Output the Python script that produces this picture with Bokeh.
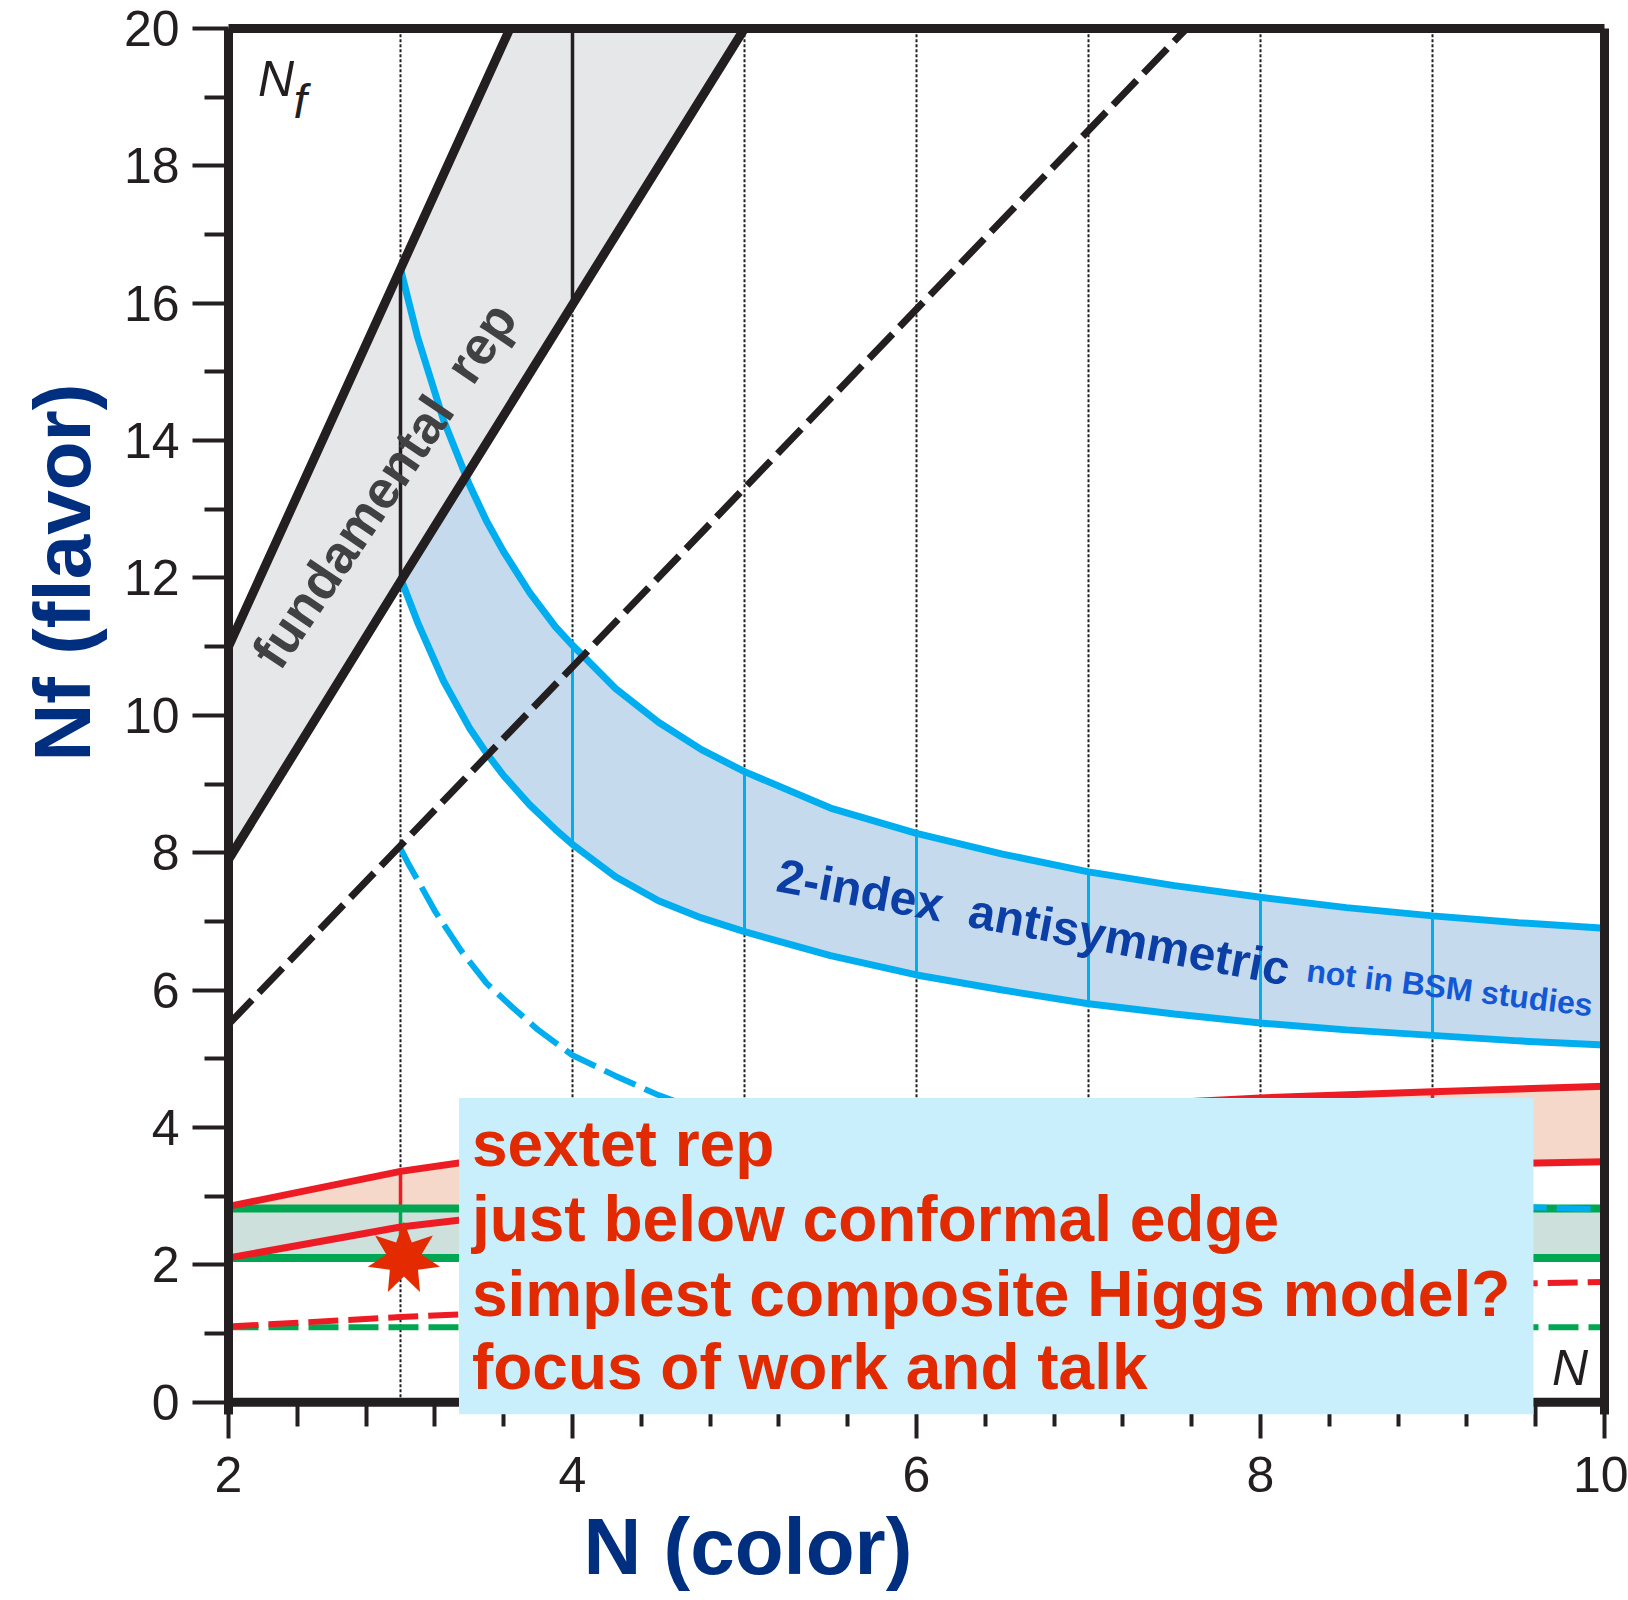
import math
from bokeh.plotting import figure
from bokeh.models import Range1d, FixedTicker, LinearAxis, BoxAnnotation, Label, Title
from bokeh.embed import file_html
from bokeh.resources import INLINE

# ---------------- data ----------------
x_major_ticks = [2, 4, 6, 8, 10]
x_minor_ticks = [2.4, 2.8, 3.2, 3.6, 4.4, 4.8, 5.2, 5.6, 6.4, 6.8, 7.2, 7.6, 8.4, 8.8, 9.2, 9.6]
y_major_ticks = [0, 2, 4, 6, 8, 10, 12, 14, 16, 18, 20]
y_minor_ticks = [1, 3, 5, 7, 9, 11, 13, 15, 17, 19]
grid_N = [3, 4, 5, 6, 7, 8, 9]

# fundamental rep band
N_fund = [2, 3, 4, 5]
fund_upper = [11.0, 16.5, 22.0, 27.5]
fund_lower = [7.9, 11.95, 15.98, 20.0]
fund_vert_N = [3, 4]

# black dashed line
N_bdash = [2, 7.57]
nf_bdash = [5.5, 20.0]

# 2-index antisymmetric band
N_anti = [3, 3.1, 3.25, 3.4, 3.5, 3.6, 3.75, 3.9, 4, 4.25, 4.5, 4.75, 5, 5.5, 6, 6.5,
          7, 7.5, 8, 8.5, 9, 9.5, 10]
anti_upper = [16.5, 15.5, 14.3, 13.36, 12.83, 12.38, 11.79, 11.29, 11.02, 10.39, 9.9, 9.5,
              9.18, 8.65, 8.28, 7.98, 7.72, 7.52, 7.35, 7.2, 7.08, 6.98, 6.9]
anti_lower = [12.0, 11.35, 10.5, 9.82, 9.45, 9.12, 8.7, 8.34, 8.12, 7.65, 7.3, 7.05,
              6.85, 6.5, 6.22, 6.0, 5.8, 5.65, 5.52, 5.42, 5.34, 5.26, 5.2]
anti_vert_N = [4, 5, 6, 7, 8, 9]

# antisymmetric dashed curve
N_adash = [3, 3.05, 3.1, 3.2, 3.35, 3.5, 3.65, 3.8, 4, 4.25, 4.5, 4.75, 5, 5.5, 6, 7, 8, 9, 10]
nf_adash = [8.06, 7.82, 7.6, 7.15, 6.58, 6.1, 5.75, 5.42, 5.05, 4.75, 4.47, 4.24, 4.05,
            3.76, 3.53, 3.22, 3.02, 2.89, 2.8]

# sextet (2-index symmetric) band
N_sext = [2, 3, 4, 5, 6, 7, 8, 9, 10]
sext_upper = [2.85, 3.36, 3.72, 3.97, 4.15, 4.3, 4.43, 4.52, 4.6]
sext_lower = [2.1, 2.55, 2.84, 3.05, 3.2, 3.31, 3.39, 3.45, 3.5]
sext_dashed = [1.1, 1.24, 1.35, 1.44, 1.52, 1.59, 1.65, 1.7, 1.75]
sext_vert_N = [3, 4, 5, 6, 7, 8, 9]

# adjoint band
N_adj = [2, 10]
adj_upper = [2.82, 2.82]
adj_lower = [2.1, 2.1]
adj_dashed = [1.09, 1.09]
adj_vert_N = [3, 4, 5, 6, 7, 8, 9]

# star
star_N = [3.02]
star_Nf = [2.09]

# text box
box_left, box_right, box_top = 3.34, 9.587, 4.43
box_lines = ["sextet rep", "just below conformal edge",
             "simplest composite Higgs model?", "focus of work and talk"]
box_line_Nf = [3.756, 2.666, 1.576, 0.516]
box_text_N = 3.415

# ---------------- styling ----------------
FONT = "Liberation Sans"
INK = "#231f20"
BLUE = "#00aeef"
RED = "#ed1c24"
GREEN = "#00a651"
NAVY = "#002f80"

Y_LOW = -0.18          # frame extends a little below Nf = 0 so the text box can overhang
FW = 1376
PX_PER_Y = 68.7
FH = round((20 - Y_LOW) * PX_PER_Y)
p = figure(width=1628, height=1600, x_range=Range1d(2, 10), y_range=Range1d(Y_LOW, 20),
           output_backend="svg", toolbar_location=None,
           min_border_left=228, min_border_right=24, min_border_top=28,
           min_border_bottom=1600 - 28 - FH)
p.outline_line_color = None
p.background_fill_color = "white"
p.border_fill_color = "white"
p.grid.visible = False

p.xaxis.ticker = FixedTicker(ticks=x_major_ticks, minor_ticks=x_minor_ticks)
p.yaxis.ticker = FixedTicker(ticks=y_major_ticks, minor_ticks=y_minor_ticks)
for ax in (p.xaxis[0], p.yaxis[0]):
    ax.axis_line_width = 9
    ax.axis_line_color = INK
    ax.major_tick_line_width = 4
    ax.minor_tick_line_width = 4
    ax.major_tick_line_color = INK
    ax.minor_tick_line_color = INK
    ax.major_label_text_font = FONT
    ax.major_label_text_font_size = "50px"
    ax.major_label_text_color = INK
# y axis: ticks outward from the frame edge
p.yaxis.major_tick_out = 36
p.yaxis.major_tick_in = 0
p.yaxis.minor_tick_out = 24
p.yaxis.minor_tick_in = 0
p.yaxis.major_label_standoff = 13
# x axis sits 12px below Nf = 0; ticks reach up to the Nf = 0 frame line
p.xaxis.axis_line_color = None
p.xaxis.major_tick_out = 24
p.xaxis.major_tick_in = 12
p.xaxis.minor_tick_out = 12
p.xaxis.minor_tick_in = 12
p.xaxis.major_label_standoff = 18

for place in ("above", "right"):
    ax = LinearAxis(ticker=FixedTicker(ticks=[]), axis_line_width=9, axis_line_color=INK,
                    major_tick_out=0, major_tick_in=0, minor_tick_out=0, minor_tick_in=0,
                    major_label_text_font_size="0px")
    p.add_layout(ax, place)

# axis titles (off-centre, as in the original)
p.add_layout(Title(text="N (color)", align="left", offset=355, vertical_align="middle",
                   standoff=12, text_font=FONT, text_font_size="80px",
                   text_font_style="bold", text_color=NAVY), "below")
p.add_layout(Title(text="Nf (flavor)", align="left", offset=653, vertical_align="middle",
                   standoff=25, text_font=FONT, text_font_size="80px",
                   text_font_style="bold", text_color=NAVY), "left")

# dotted verticals
p.segment(x0=grid_N, y0=[y_major_ticks[0]] * len(grid_N), x1=grid_N,
          y1=[y_major_ticks[-1]] * len(grid_N), line_color=INK, line_width=2, line_dash="3 2")

# fills
p.varea(x=N_anti, y1=anti_lower, y2=anti_upper, fill_color="#c6daee")
p.varea(x=N_fund, y1=fund_lower, y2=fund_upper, fill_color="#e6e7e8")

# antisymmetric verticals and edges
ia = [N_anti.index(n) for n in anti_vert_N]
p.segment(x0=anti_vert_N, y0=[anti_lower[i] for i in ia], x1=anti_vert_N,
          y1=[anti_upper[i] for i in ia], line_color=BLUE, line_width=3)
p.line(N_anti, anti_upper, line_color=BLUE, line_width=7)
p.line(N_anti, anti_lower, line_color=BLUE, line_width=7)

# fundamental verticals and edges
iF = [N_fund.index(n) for n in fund_vert_N]
p.segment(x0=fund_vert_N, y0=[fund_lower[i] for i in iF], x1=fund_vert_N,
          y1=[fund_upper[i] for i in iF], line_color=INK, line_width=3.5)
p.line(N_fund, fund_upper, line_color=INK, line_width=9)
p.line(N_fund, fund_lower, line_color=INK, line_width=9)

# sextet fill + verticals
p.varea(x=N_sext, y1=sext_lower, y2=sext_upper, fill_color="#f5d8c9")
isx = [N_sext.index(n) for n in sext_vert_N]
p.segment(x0=sext_vert_N, y0=[sext_lower[i] for i in isx], x1=sext_vert_N,
          y1=[sext_upper[i] for i in isx], line_color=RED, line_width=3.5)

# adjoint fill + verticals + lines
p.varea(x=N_adj, y1=adj_lower, y2=adj_upper, fill_color="#cde0dc")
p.segment(x0=adj_vert_N, y0=[adj_lower[0]] * len(adj_vert_N), x1=adj_vert_N,
          y1=[adj_upper[0]] * len(adj_vert_N), line_color=GREEN, line_width=3.5)
p.line(N_adj, adj_upper, line_color=GREEN, line_width=8)
p.line(N_adj, adj_lower, line_color=GREEN, line_width=8)

# sextet lines
p.line(N_sext, sext_upper, line_color=RED, line_width=7)
p.line(N_sext, sext_lower, line_color=RED, line_width=7)

# dashed lines
p.line(N_adj, adj_dashed, line_color=GREEN, line_width=6, line_dash="30 10")
p.line(N_sext, sext_dashed, line_color=RED, line_width=6, line_dash="30 10")
p.line(N_adash, nf_adash, line_color=BLUE, line_width=6, line_dash="34 10")
p.line(N_bdash, nf_bdash, line_color=INK, line_width=7, line_dash="34 10")

# frame line at Nf = 0
p.line([x_major_ticks[0], x_major_ticks[-1]], [y_major_ticks[0]] * 2, line_color=INK, line_width=9)

# seven-pointed star (vertices built around the data point)
sx, sy = (10 - 2) / FW, 1 / PX_PER_Y
R_out, R_in = 37, 18
star_x, star_y = [], []
for k in range(14):
    a = math.pi / 2 + k * math.pi / 7
    rr = R_out if k % 2 == 0 else R_in
    star_x.append(star_N[0] + rr * math.cos(a) * sx)
    star_y.append(star_Nf[0] + rr * math.sin(a) * sy)
p.patch(star_x, star_y, fill_color="#e32a00", line_color=None)

# labels inside the plot
p.add_layout(Label(x=2.905, y=13.35, text="fundamental\u00a0 rep", angle=56, angle_units="deg",
                   text_align="center", text_baseline="middle", text_font=FONT,
                   text_font_size="53px", text_font_style="bold", text_color="#414042"))
p.add_layout(Label(x=6.68, y=6.99, text="2-index\u00a0 antisymmetric", angle=-10.5, angle_units="deg",
                   text_align="center", text_baseline="middle", text_font=FONT,
                   text_font_size="48px", text_font_style="bold", text_color="#0b3fa6"))
p.add_layout(Label(x=9.10, y=6.03, text="not in BSM studies", angle=-7, angle_units="deg",
                   text_align="center", text_baseline="middle", text_font=FONT,
                   text_font_size="32px", text_font_style="bold", text_color="#1257d4"))
p.add_layout(Label(x=2.172, y=19.27, text="N", text_align="left", text_baseline="middle",
                   text_font=FONT, text_font_size="50px", text_font_style="italic", text_color=INK))
p.add_layout(Label(x=2.378, y=18.93, text="f", text_align="left", text_baseline="middle",
                   text_font=FONT, text_font_size="48px", text_font_style="italic", text_color=INK))
p.add_layout(Label(x=9.80, y=0.49, text="N", text_align="center", text_baseline="middle",
                   text_font=FONT, text_font_size="50px", text_font_style="italic", text_color=INK))

# text box
p.add_layout(BoxAnnotation(left=box_left, right=box_right, top=box_top, bottom=Y_LOW,
                           fill_color="#c9eefc", fill_alpha=1.0, line_color=None, level="overlay"))
for t, yv in zip(box_lines, box_line_Nf):
    p.add_layout(Label(x=box_text_N, y=yv, text=t, text_align="left", text_baseline="middle",
                       text_font=FONT, text_font_size="64px", text_font_style="bold",
                       text_color="#e12a00", level="overlay"))

open("out.html", "w").write(file_html(p, INLINE))
